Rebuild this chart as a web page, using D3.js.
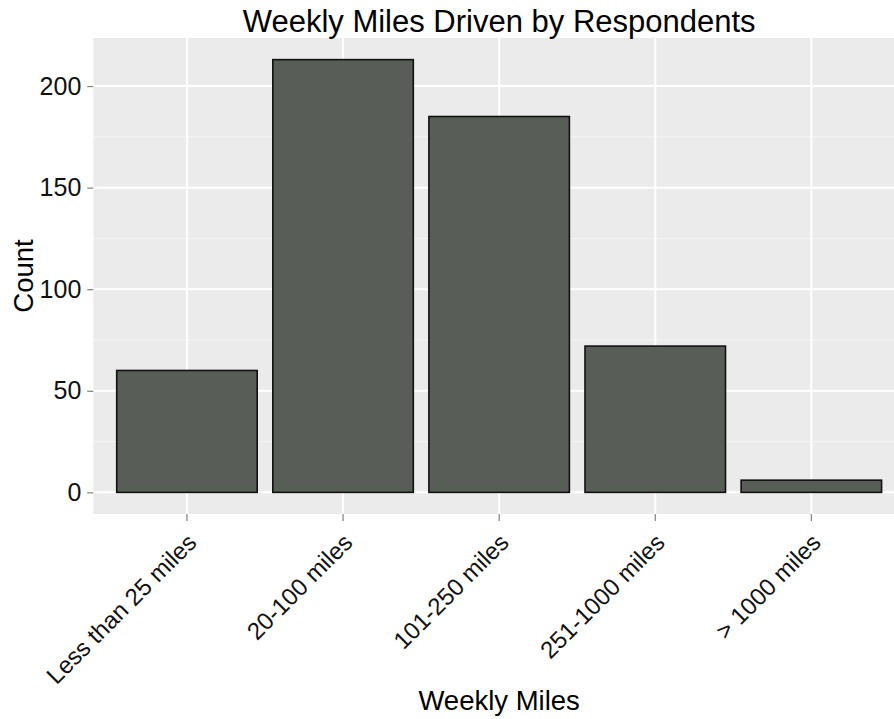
<!DOCTYPE html>
<html>
<head>
<meta charset="utf-8">
<script src="https://cdn.jsdelivr.net/npm/d3@7"></script>
<style>
  html, body { margin: 0; padding: 0; background: #ffffff; }
  svg { display: block; font-family: "Liberation Sans", Arial, Helvetica, sans-serif; }
</style>
</head>
<body>
<svg id="chart" width="894" height="719"></svg>
<script>
const categories = ["Less than 25 miles", "20-100 miles", "101-250 miles", "251-1000 miles", "> 1000 miles"];
const counts = [60, 213, 185, 72, 6];
const yTicks = [0, 50, 100, 150, 200];
const yMinorTicks = [25, 75, 125, 175];
const titleText = "Weekly Miles Driven by Respondents";
const xTitle = "Weekly Miles";
const yTitle = "Count";

const svg = d3.select("#chart");
const W = 894, H = 719;
const panel = { left: 93.3, right: 905, top: 38, bottom: 514 };

const maxV = d3.max(counts);
const expand = maxV * 0.05;
const y = d3.scaleLinear().domain([-expand, maxV + expand]).range([panel.bottom, panel.top]);
const x = d3.scaleBand().domain(categories).range([panel.left, panel.right])
  .paddingInner(0.1).paddingOuter(0.15);

// panel background
svg.append("rect")
  .attr("x", panel.left).attr("y", panel.top)
  .attr("width", panel.right - panel.left).attr("height", panel.bottom - panel.top)
  .attr("fill", "#EBEBEB");

// minor grid
svg.append("g").selectAll("line").data(yMinorTicks).join("line")
  .attr("x1", panel.left).attr("x2", panel.right)
  .attr("y1", d => y(d)).attr("y2", d => y(d))
  .attr("stroke", "#F5F5F5").attr("stroke-width", 1);

// major grid
svg.append("g").selectAll("line").data(yTicks).join("line")
  .attr("x1", panel.left).attr("x2", panel.right)
  .attr("y1", d => y(d)).attr("y2", d => y(d))
  .attr("stroke", "#FFFFFF").attr("stroke-width", 2);
svg.append("g").selectAll("line").data(categories).join("line")
  .attr("x1", d => x(d) + x.bandwidth() / 2).attr("x2", d => x(d) + x.bandwidth() / 2)
  .attr("y1", panel.top).attr("y2", panel.bottom)
  .attr("stroke", "#FFFFFF").attr("stroke-width", 2);

// bars
svg.append("g").selectAll("rect").data(categories).join("rect")
  .attr("x", d => x(d))
  .attr("width", x.bandwidth())
  .attr("y", (d, i) => y(counts[i]))
  .attr("height", (d, i) => y(0) - y(counts[i]))
  .attr("fill", "#595D57")
  .attr("stroke", "#111111")
  .attr("stroke-width", 1.6);

// y axis
const yAxis = d3.axisLeft(y).tickValues(yTicks).tickSize(6).tickPadding(6);
const gy = svg.append("g").attr("transform", `translate(${panel.left},0)`).call(yAxis);
gy.select(".domain").remove();
gy.selectAll(".tick line").attr("stroke", "#7F7F7F").attr("stroke-width", 1.2);
gy.selectAll(".tick text").attr("fill", "#111111").attr("font-size", 25)
  .attr("font-family", "'Liberation Sans', Arial, sans-serif");

// x axis
const xAxis = d3.axisBottom(x).tickSize(7).tickPadding(0);
const gx = svg.append("g").attr("transform", `translate(0,${panel.bottom})`).call(xAxis);
gx.select(".domain").remove();
gx.selectAll(".tick line").attr("stroke", "#7F7F7F").attr("stroke-width", 1.2);
gx.selectAll(".tick text")
  .attr("fill", "#111111").attr("font-size", 24)
  .attr("font-family", "'Liberation Sans', Arial, sans-serif")
  .attr("text-anchor", "end")
  .attr("dy", null).attr("y", null)
  .attr("transform", "translate(11,30) rotate(-45)");

// title
svg.append("text")
  .attr("x", (panel.left + panel.right) / 2).attr("y", 32)
  .attr("text-anchor", "middle").attr("font-size", 31).attr("fill", "#000")
  .text(titleText);

// x title
svg.append("text")
  .attr("x", (panel.left + panel.right) / 2).attr("y", 710)
  .attr("text-anchor", "middle").attr("font-size", 27.5).attr("fill", "#000")
  .text(xTitle);

// y title
svg.append("text")
  .attr("transform", `translate(32.5,${(panel.top + panel.bottom) / 2}) rotate(-90)`)
  .attr("text-anchor", "middle").attr("font-size", 27.5).attr("fill", "#000")
  .text(yTitle);
</script>
</body>
</html>
